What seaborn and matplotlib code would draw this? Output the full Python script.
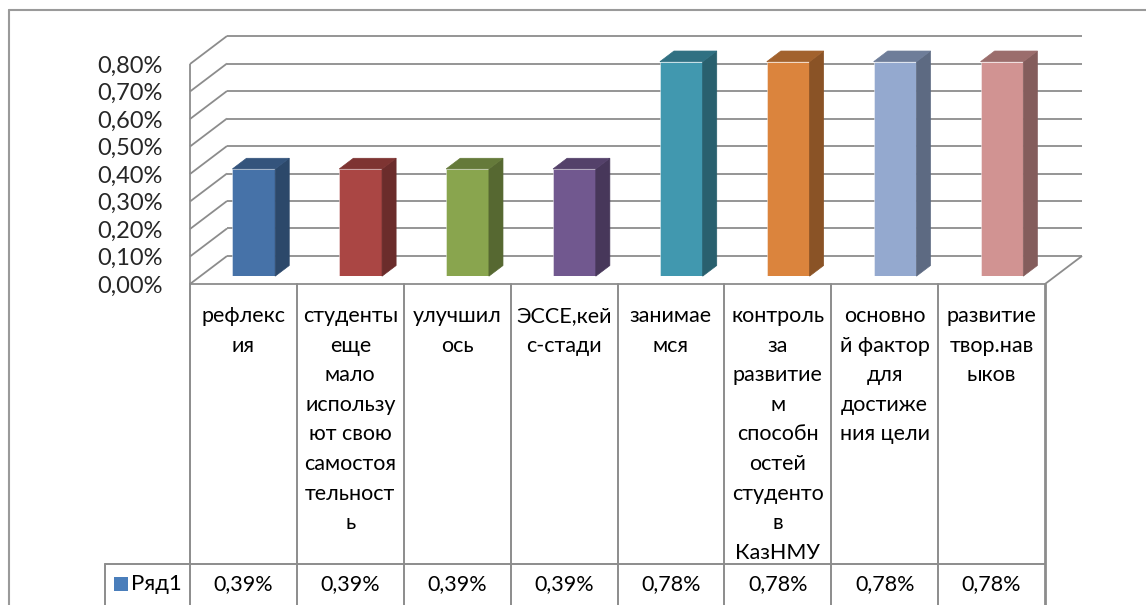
import numpy as np
import matplotlib
matplotlib.use("Agg")
import matplotlib.pyplot as plt
import matplotlib.transforms as mtransforms
import matplotlib.colors as mcolors
from matplotlib.patches import Polygon, Rectangle
from matplotlib.lines import Line2D
import seaborn as sns
import pandas as pd

# ---------------- data ----------------
categories = [
    "рефлекс\nия",
    "студенты\nеще\nмало\nиспользу\nют свою\nсамостоя\nтельност\nь",
    "улучшил\nось",
    "ЭССЕ,кей\nс-стади",
    "занимае\nмся",
    "контроль\nза\nразвитие\nм\nспособн\nостей\nстуденто\nв\nКазНМУ",
    "основно\nй фактор\nдля\nдостиже\nния цели",
    "развитие\nтвор.нав\nыков",
]
values = [0.39, 0.39, 0.39, 0.39, 0.78, 0.78, 0.78, 0.78]
value_labels = ["0,39%", "0,39%", "0,39%", "0,39%", "0,78%", "0,78%", "0,78%", "0,78%"]
series_name = "Ряд1"
y_ticks = [0.0, 0.1, 0.2, 0.3, 0.4, 0.5, 0.6, 0.7, 0.8]
y_tick_labels = ["0,00%", "0,10%", "0,20%", "0,30%", "0,40%", "0,50%", "0,60%", "0,70%", "0,80%"]
front_colors = ["#4672A8", "#AA4644", "#89A54E", "#71588F",
                "#4198AF", "#DB843D", "#94A9CF", "#D19392"]
legend_color = "#4A7EBB"

# ---------------- style ----------------
sns.set_theme(style="white")
plt.rcParams['font.family'] = ['Lato', 'DejaVu Sans']

W, H = 1146, 605
fig = plt.figure(figsize=(W / 100, H / 100), dpi=100)
fig.patch.set_facecolor("white")


def fx(px):
    return px / W


def fy(py):
    return 1 - py / H


GRID = "#8C8C8C"
L, R, B, T = 190, 1045, 284, 64          # front plane of the plot box (px)
DX, DY = 37, 28                          # depth vector (px, up)
DF, DB = 0.28, 0.66                      # bar front / back depth fractions

# front-plane axes (walls, ticks)
ax = fig.add_axes([fx(L), fy(B), (R - L) / W, (B - T) / H])
ax.set_xlim(-0.5, 7.5)
ax.set_ylim(0, 0.8)
ax.patch.set_visible(False)
for s in ax.spines.values():
    s.set_visible(False)
ax.set_xticks([])
ax.set_yticks(y_ticks, y_tick_labels)
ax.tick_params(axis="y", length=0, pad=27 * 0.72, labelsize=17)
ax.grid(False)


def shifted(axis, x, v, d):
    p = axis.transData.transform((x, v)) + np.array([DX * d, DY * d])
    return axis.transData.inverted().transform(p)


def wall_line(p0, p1, **kw):
    ax.add_line(Line2D([p0[0], p1[0]], [p0[1], p1[1]], color=GRID, lw=1.3,
                       clip_on=False, solid_capstyle="butt", **kw))


x0, x1 = ax.get_xlim()
for v in y_ticks:
    # back wall gridline
    wall_line(shifted(ax, x0, v, 1), shifted(ax, x1, v, 1))
    # side wall gridline
    wall_line(shifted(ax, x0, v, 0), shifted(ax, x0, v, 1))
# front-left edge, floor front and right edges
wall_line(shifted(ax, x0, 0, 0), shifted(ax, x0, 0.8, 0))
wall_line(shifted(ax, x0, 0, 0), shifted(ax, x1, 0, 0))
wall_line(shifted(ax, x1, 0, 0), shifted(ax, x1, 0, 1))

# bar axes, placed at the bars' front plane
axb = fig.add_axes([fx(L + DX * DF), fy(B - DY * DF), (R - L) / W, (B - T) / H])
df = pd.DataFrame({"cat": categories, "val": values})
sns.barplot(data=df, x="cat", y="val", hue="cat", palette=front_colors,
            order=categories, hue_order=categories, width=0.4, saturation=1,
            legend=False, ax=axb, linewidth=0.6, edgecolor="#FFFFFF80")
axb.set_xlim(-0.5, 7.5)
axb.set_ylim(0, 0.8)
axb.axis("off")

dd = DB - DF
for patch, col in zip(list(axb.patches), front_colors):
    bx, bw, bh = patch.get_x(), patch.get_width(), patch.get_height()
    rgb = np.array(mcolors.to_rgb(col))
    side = rgb * 0.63
    top = rgb * 0.74
    side_pts = [(bx + bw, 0), (bx + bw, bh),
                tuple(shifted(axb, bx + bw, bh, dd)), tuple(shifted(axb, bx + bw, 0, dd))]
    top_pts = [(bx, bh), (bx + bw, bh),
               tuple(shifted(axb, bx + bw, bh, dd)), tuple(shifted(axb, bx, bh, dd))]
    axb.add_patch(Polygon(side_pts, closed=True, facecolor=side, edgecolor=side,
                          lw=0.5, clip_on=False))
    axb.add_patch(Polygon(top_pts, closed=True, facecolor=top, edgecolor=top,
                          lw=0.5, clip_on=False))

# ---------------- data table ----------------
trans = mtransforms.blended_transform_factory(ax.transData, fig.transFigure)
TLINE = "#8C8C8C"
row_top, row_mid, row_bot = 284, 564, 605
for k in range(len(categories) + 1):
    ax.add_line(Line2D([k - 0.5, k - 0.5], [fy(row_top), fy(row_bot)], transform=trans,
                       color=TLINE, lw=1.4 if k < len(categories) else 2.0, clip_on=False))
ax.add_line(Line2D([-0.5, 7.5], [fy(row_mid), fy(row_mid)], transform=trans,
                   color=TLINE, lw=1.4, clip_on=False))
# legend key cell
fig.add_artist(Line2D([fx(105), fx(L)], [fy(row_mid), fy(row_mid)], color=TLINE, lw=1.4))
fig.add_artist(Line2D([fx(105), fx(105)], [fy(row_mid), fy(row_bot)], color=TLINE, lw=1.4))
fig.add_artist(Rectangle((fx(114), fy(591)), 14 / W, 14 / H, facecolor=legend_color,
                         edgecolor="none"))
fig.text(fx(131), fy(584), series_name, ha="left", va="center", fontsize=16, color="black")

for i, (cat, lab) in enumerate(zip(categories, value_labels)):
    ax.text(i, fy(306), cat, transform=trans, ha="center", va="top",
            fontsize=15.5, linespacing=1.6, color="black", clip_on=False)
    ax.text(i, fy(584), lab, transform=trans, ha="center", va="center",
            fontsize=15.5, color="black", clip_on=False)

# outer chart border
fig.add_artist(Line2D([fx(9), fx(9)], [fy(10), fy(605)], color="#9A9A9A", lw=1.5))
fig.add_artist(Line2D([fx(9), fx(1146)], [fy(10), fy(10)], color="#9A9A9A", lw=1.5))

fig.savefig("out.png", dpi=100, facecolor="white")
